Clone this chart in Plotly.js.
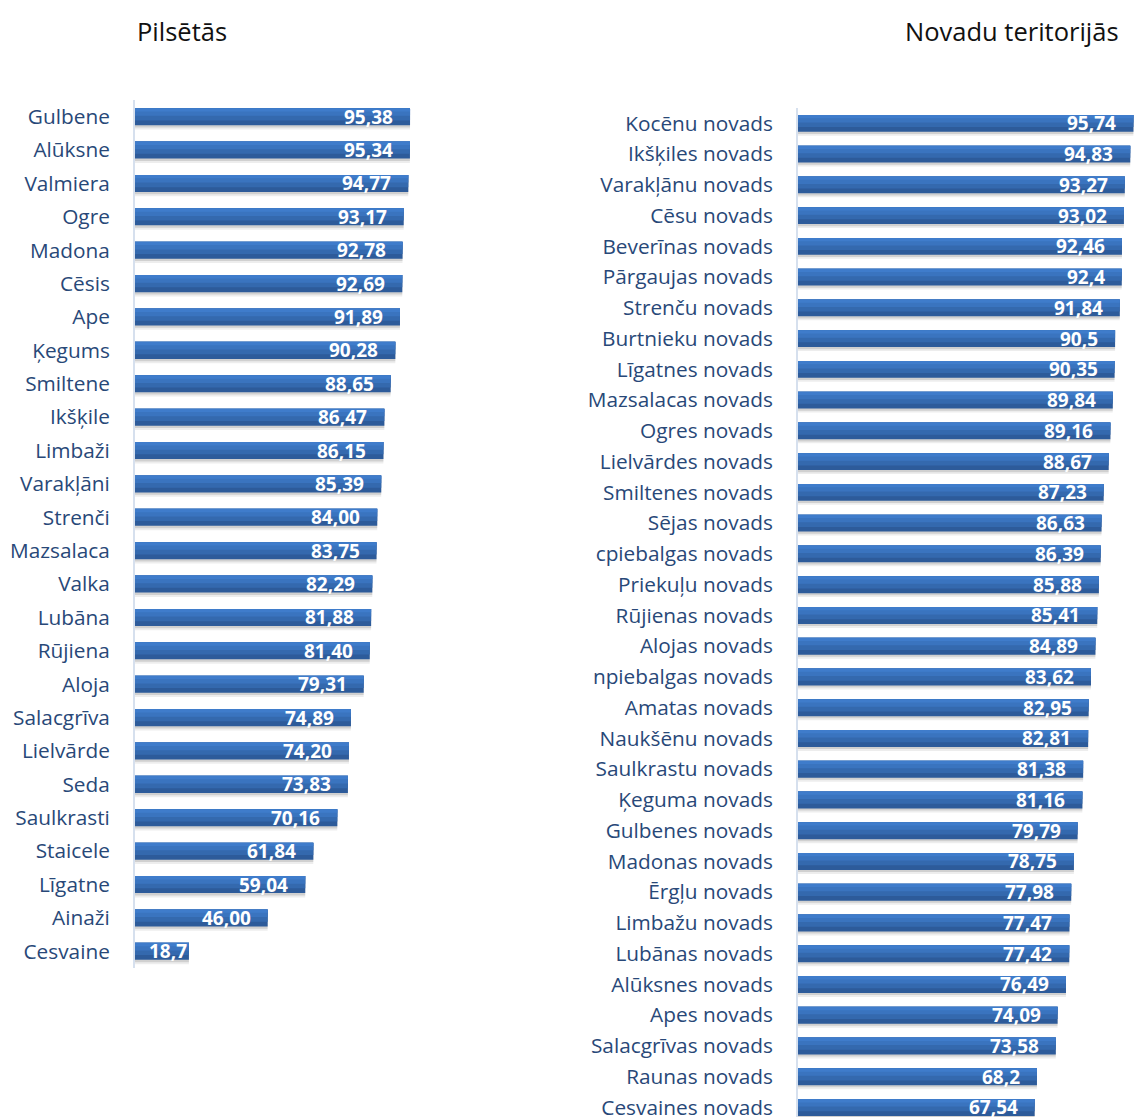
<!DOCTYPE html>
<html>
<head>
<meta charset="utf-8">
<script src="https://cdn.plot.ly/plotly-3.0.1.min.js"></script>
<style>
  html, body { margin: 0; padding: 0; background: #ffffff; }
  #chart { width: 1134px; height: 1117px; }
</style>
</head>
<body>
<div id="chart"></div>
<script>
// ---- Data ----
const cityNames = ["Gulbene","Alūksne","Valmiera","Ogre","Madona","Cēsis","Ape","Ķegums","Smiltene","Ikšķile","Limbaži","Varakļāni","Strenči","Mazsalaca","Valka","Lubāna","Rūjiena","Aloja","Salacgrīva","Lielvārde","Seda","Saulkrasti","Staicele","Līgatne","Ainaži","Cesvaine"];
const cityValues = [95.38,95.34,94.77,93.17,92.78,92.69,91.89,90.28,88.65,86.47,86.15,85.39,84.00,83.75,82.29,81.88,81.40,79.31,74.89,74.20,73.83,70.16,61.84,59.04,46.00,18.7];
const cityLabels = ["95,38","95,34","94,77","93,17","92,78","92,69","91,89","90,28","88,65","86,47","86,15","85,39","84,00","83,75","82,29","81,88","81,40","79,31","74,89","74,20","73,83","70,16","61,84","59,04","46,00","18,7"];

const regionNames = ["Kocēnu novads","Ikšķiles novads","Varakļānu novads","Cēsu novads","Beverīnas novads","Pārgaujas novads","Strenču novads","Burtnieku novads","Līgatnes novads","Mazsalacas novads","Ogres novads","Lielvārdes novads","Smiltenes novads","Sējas novads","cpiebalgas novads","Priekuļu novads","Rūjienas novads","Alojas novads","npiebalgas novads","Amatas novads","Naukšēnu novads","Saulkrastu novads","Ķeguma novads","Gulbenes novads","Madonas novads","Ērgļu novads","Limbažu novads","Lubānas novads","Alūksnes novads","Apes novads","Salacgrīvas novads","Raunas novads","Cesvaines novads"];
const regionValues = [95.74,94.83,93.27,93.02,92.46,92.4,91.84,90.5,90.35,89.84,89.16,88.67,87.23,86.63,86.39,85.88,85.41,84.89,83.62,82.95,82.81,81.38,81.16,79.79,78.75,77.98,77.47,77.42,76.49,74.09,73.58,68.2,67.54];
const regionLabels = regionValues.map(v => String(v).replace('.', ','));

const titles = ["Pilsētās", "Novadu teritorijās"];

// ---- Styling ----
const FONT = "'Open Sans', Lato, sans-serif";
const W = 1134, H = 1117;

function barLayers(names, values, xa, ya, w) {
  const common = { type: 'bar', orientation: 'h', x: values, y: names, xaxis: xa, yaxis: ya, hoverinfo: 'skip', width: w };
  return [
    Object.assign({}, common, { offset: -w/2 + 0.13, marker: { color: 'rgba(0,0,0,0.07)' } }),
    Object.assign({}, common, { offset: -w/2 + 0.07, marker: { color: 'rgba(0,0,0,0.12)' } }),
    Object.assign({}, common, { offset: -w/2, marker: { color: '#2D5B9A' } }),
    Object.assign({}, common, { width: w * 0.72, offset: -w/2, marker: { color: '#3469AE' } }),
    Object.assign({}, common, { width: w * 0.45, offset: -w/2, marker: { color: '#3A74BF' } }),
    Object.assign({}, common, { width: w * 0.2, offset: -w/2, marker: { color: '#3F7CCB' } })
  ];
}

const data = [].concat(
  barLayers(cityNames, cityValues, 'x', 'y', 0.51),
  barLayers(regionNames, regionValues, 'x2', 'y2', 0.55)
);

const annotations = [];
cityNames.forEach((n, i) => {
  annotations.push({
    x: cityValues[i], y: n, xref: 'x', yref: 'y', text: cityLabels[i],
    xanchor: 'right', yanchor: 'middle', xshift: cityValues[i] < 30 ? 0 : -15, yshift: 0,
    showarrow: false, font: { family: FONT, size: 19, color: '#ffffff', weight: 700 }
  });
});
regionNames.forEach((n, i) => {
  annotations.push({
    x: regionValues[i], y: n, xref: 'x2', yref: 'y2', text: regionLabels[i],
    xanchor: 'right', yanchor: 'middle', xshift: -15, yshift: 0,
    showarrow: false, font: { family: FONT, size: 19, color: '#ffffff', weight: 700 }
  });
});
annotations.push({
  x: 182 / W, y: 1 - 31 / H, xref: 'paper', yref: 'paper', text: titles[0],
  xanchor: 'center', yanchor: 'middle', showarrow: false,
  font: { family: FONT, size: 25.5, color: '#111111' }
});
annotations.push({
  x: 1121 / W, y: 1 - 31 / H, xref: 'paper', yref: 'paper', text: titles[1],
  xanchor: 'right', yanchor: 'middle', showarrow: false,
  font: { family: FONT, size: 25.5, color: '#111111' }
});

const yCommon = {
  type: 'category', showgrid: false, zeroline: false,
  showline: true, linecolor: '#D6E0EE', linewidth: 2,
  ticks: 'outside', ticklen: 19, tickcolor: 'rgba(0,0,0,0)',
  tickfont: { family: FONT, size: 20.8, color: '#284878' },
  fixedrange: true
};
const xCommon = { visible: false, showgrid: false, zeroline: false, fixedrange: true };

const layout = {
  width: W, height: H,
  margin: { l: 0, r: 0, t: 0, b: 0 },
  paper_bgcolor: '#ffffff', plot_bgcolor: 'rgba(0,0,0,0)',
  showlegend: false, barmode: 'overlay',
  xaxis: Object.assign({}, xCommon, { domain: [135 / W, 430 / W], range: [0, 102.3], anchor: 'y' }),
  yaxis: Object.assign({}, yCommon, { domain: [1 - 968 / H, 1 - 100 / H], range: [25.5, -0.5], anchor: 'x' }),
  xaxis2: Object.assign({}, xCommon, { domain: [798 / W, 1], range: [0, 95.9], anchor: 'y2' }),
  yaxis2: Object.assign({}, yCommon, { domain: [0, 1 - 108 / H], range: [32.31, -0.5], anchor: 'x2' }),
  annotations: annotations
};

Plotly.newPlot('chart', data, layout, { staticPlot: true, displayModeBar: false });
</script>
</body>
</html>
